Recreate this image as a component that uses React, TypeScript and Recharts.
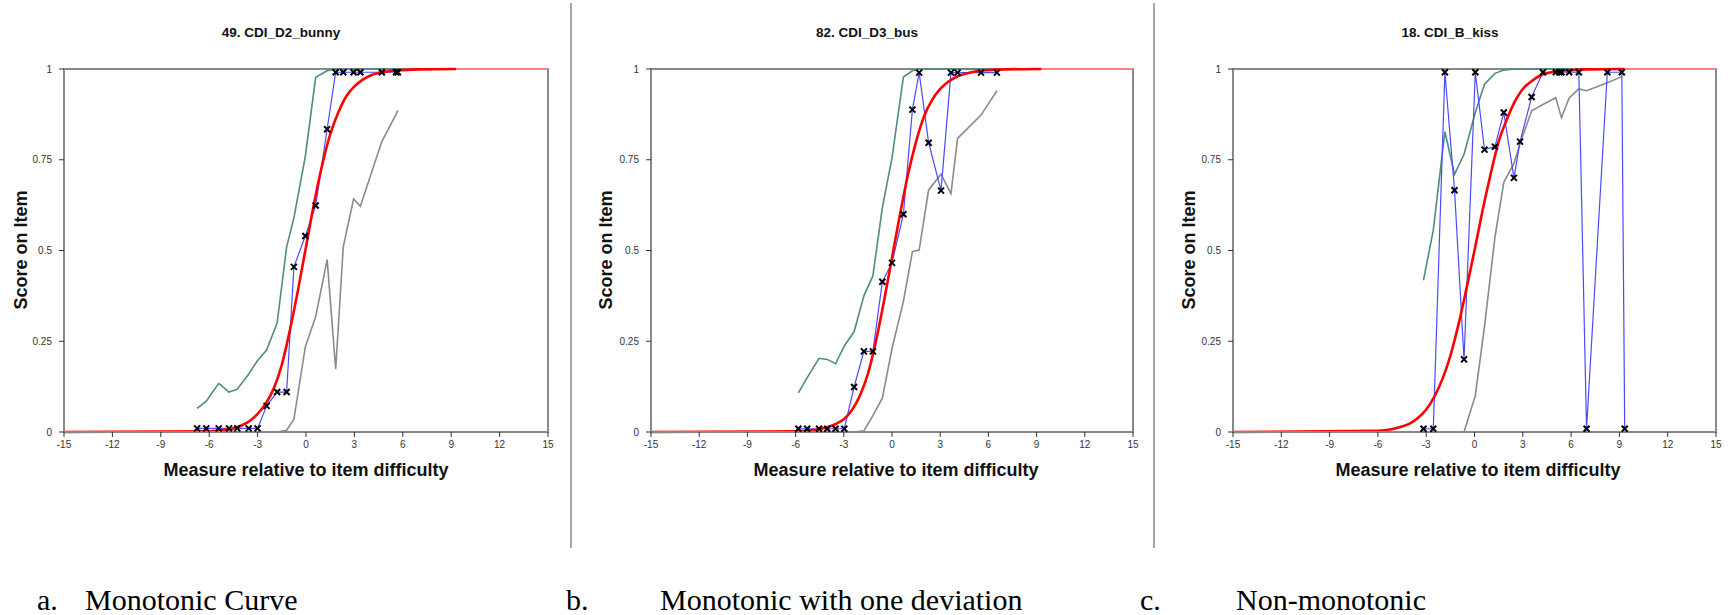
import React from 'react'
import { LineChart, Line, XAxis, YAxis, ReferenceArea } from 'recharts'

// x ticks / y ticks shared by all three item plots
const xTicks = [-15, -12, -9, -6, -3, 0, 3, 6, 9, 12, 15]
const yTicks = [0, 0.25, 0.5, 0.75, 1]

// model curve (red) sample positions
const modelX = [-15, -6, -5, -4.5, -4, -3.5, -3, -2.5, -2, -1.5, -1, -0.5, 0, 0.5, 1, 1.5, 2, 2.5, 3, 3.5, 4, 5, 6, 7, 9.3]
const tailX = [9.3, 15]
const tailY = [1, 1]

// a. 49. CDI_D2_bunny
const obsX1 = [-6.75, -6.18, -5.41, -4.77, -4.26, -3.55, -3.0, -2.44, -1.79, -1.2, -0.75, -0.04, 0.6, 1.31, 1.84, 2.31, 2.95, 3.37, 4.7, 5.58, 5.69]
const obsY1 = [0.01, 0.01, 0.01, 0.01, 0.01, 0.01, 0.01, 0.072, 0.11, 0.11, 0.455, 0.54, 0.624, 0.834, 0.991, 0.991, 0.991, 0.991, 0.991, 0.991, 0.991]
const upperY1 = [0.065, 0.085, 0.134, 0.11, 0.118, 0.16, 0.197, 0.226, 0.3, 0.51, 0.59, 0.76, 0.977, 0.995, 1, 1, 1, 1, 1, 1, 1]
const lowerY1 = [0, 0, 0, 0, 0, 0, 0, 0, 0, 0.005, 0.035, 0.235, 0.318, 0.475, 0.173, 0.51, 0.642, 0.622, 0.8, 0.875, 0.886]
const modelY1 = [0, 0.002, 0.006, 0.01, 0.018, 0.03, 0.05, 0.078, 0.12, 0.185, 0.28, 0.39, 0.51, 0.63, 0.735, 0.82, 0.88, 0.925, 0.952, 0.97, 0.982, 0.993, 0.997, 0.999, 1]

// b. 82. CDI_D3_bus
const obsX2 = [-5.83, -5.28, -4.54, -4.03, -3.51, -2.97, -2.36, -1.75, -1.19, -0.6, 0.0, 0.71, 1.27, 1.69, 2.28, 3.05, 3.67, 4.08, 5.54, 6.53]
const obsY2 = [0.009, 0.009, 0.009, 0.009, 0.009, 0.009, 0.124, 0.222, 0.222, 0.414, 0.466, 0.6, 0.888, 0.99, 0.797, 0.665, 0.99, 0.99, 0.99, 0.99]
const upperY2 = [0.108, 0.15, 0.203, 0.2, 0.188, 0.237, 0.276, 0.375, 0.43, 0.618, 0.755, 0.978, 0.995, 1, 1, 1, 1, 1, 1, 1]
const lowerY2 = [0, 0, 0, 0, 0, 0, 0, 0.003, 0.045, 0.093, 0.23, 0.36, 0.497, 0.501, 0.667, 0.71, 0.657, 0.809, 0.873, 0.94]
const modelY2 = [0, 0.002, 0.005, 0.008, 0.014, 0.022, 0.035, 0.06, 0.1, 0.16, 0.25, 0.36, 0.48, 0.6, 0.71, 0.8, 0.87, 0.915, 0.945, 0.965, 0.978, 0.992, 0.997, 0.999, 1]

// c. 18. CDI_B_kiss
const obsX3 = [-3.17, -2.56, -1.84, -1.24, -0.65, 0.05, 0.62, 1.27, 1.82, 2.45, 2.83, 3.55, 4.25, 5.05, 5.27, 5.4, 5.88, 6.48, 6.96, 8.25, 9.15, 9.33]
const obsY3 = [0.009, 0.009, 0.991, 0.666, 0.2, 0.991, 0.778, 0.786, 0.88, 0.7, 0.8, 0.923, 0.991, 0.991, 0.991, 0.991, 0.991, 0.991, 0.009, 0.991, 0.991, 0.009]
const upperY3 = [0.418, 0.556, 0.827, 0.71, 0.765, 0.88, 0.958, 0.988, 0.997, 1, 1, 1, 1, 1, 1, 1, 1, 1, 1, 1, 1, 1]
const lowerY3 = [0, 0, 0, 0, 0, 0.1, 0.29, 0.537, 0.688, 0.74, 0.795, 0.885, 0.902, 0.921, 0.886, 0.866, 0.92, 0.945, 0.94, 0.962, 0.979, null]
const modelY3 = [0, 0.003, 0.009, 0.015, 0.024, 0.039, 0.062, 0.097, 0.145, 0.21, 0.295, 0.395, 0.5, 0.61, 0.71, 0.8, 0.86, 0.91, 0.945, 0.965, 0.98, 0.993, 0.997, 0.999, 1]

const titles = ['49. CDI_D2_bunny', '82. CDI_D3_bus', '18. CDI_B_kiss']
const captions = [
  ['a.', 'Monotonic Curve'],
  ['b.', 'Monotonic with one deviation'],
  ['c.', 'Non-monotonic'],
]

const SANS = '"Liberation Sans", Arial, sans-serif'
const SERIF = '"Liberation Serif", "Times New Roman", serif'

const zip = (xs: number[], ys: (number | null)[]) => xs.map((x, i) => ({ x, y: ys[i] }))

function Cross(props: any) {
  const { cx, cy } = props
  if (cx == null || cy == null) return <g />
  const s = 3
  return (
    <path
      d={`M${cx - s},${cy - s}L${cx + s},${cy + s}M${cx - s},${cy + s}L${cx + s},${cy - s}`}
      stroke="#000"
      strokeWidth={2}
      fill="none"
    />
  )
}

type PanelProps = {
  left: number
  width: number
  yAxisWidth: number
  marginRight: number
  obsX: number[]
  obsY: number[]
  upperY: number[]
  lowerY: (number | null)[]
  modelY: number[]
}

function ItemPlot(p: PanelProps) {
  const obs = zip(p.obsX, p.obsY)
  return (
    <div style={{ position: 'absolute', left: p.left, top: 0 }}>
      <LineChart width={p.width} height={500} margin={{ top: 69, right: p.marginRight, bottom: 20, left: 0 }}>
        <XAxis
          dataKey="x"
          type="number"
          domain={[-15, 15]}
          ticks={xTicks}
          allowDataOverflow
          height={48}
          axisLine={{ stroke: '#888', strokeWidth: 2 }}
          tickLine={{ stroke: '#333' }}
          tickSize={5}
          tickMargin={4}
          tick={{ fontSize: 10, fill: '#333', fontFamily: SANS }}
        />
        <YAxis
          type="number"
          domain={[0, 1]}
          ticks={yTicks}
          width={p.yAxisWidth}
          axisLine={{ stroke: '#888', strokeWidth: 2 }}
          tickLine={{ stroke: '#333' }}
          tickSize={5}
          tickMargin={7}
          tick={{ fontSize: 10, fill: '#333', fontFamily: SANS }}
        />
        <ReferenceArea x1={-15} x2={15} y1={0} y2={1} fill="none" stroke="#888" strokeWidth={2} />
        <Line data={zip(p.obsX, p.upperY)} dataKey="y" stroke="#4f8c82" strokeWidth={1.6} dot={false} type="linear" isAnimationActive={false} />
        <Line data={zip(p.obsX, p.lowerY)} dataKey="y" stroke="#8a8a8a" strokeWidth={1.6} dot={false} type="linear" isAnimationActive={false} />
        <Line data={obs} dataKey="y" stroke="#4a4aff" strokeWidth={1.2} dot={false} type="linear" isAnimationActive={false} />
        <Line data={zip(modelX, p.modelY)} dataKey="y" stroke="#ff0000" strokeWidth={2.6} dot={false} type="monotone" isAnimationActive={false} />
        <Line data={zip(tailX, tailY)} dataKey="y" stroke="#ff8080" strokeWidth={2} dot={false} type="linear" isAnimationActive={false} />
        <Line
          data={obs}
          dataKey="y"
          stroke="none"
          dot={(d: any) => <Cross key={`c${d.index}`} cx={d.cx} cy={d.cy} />}
          activeDot={false}
          isAnimationActive={false}
        />
      </LineChart>
    </div>
  )
}

function Text({ x, y, children, size, bold, rotate, font }: any) {
  return (
    <div
      style={{
        position: 'absolute',
        left: x,
        top: y,
        transform: `translate(-50%, -50%)${rotate ? ' rotate(-90deg)' : ''}`,
        whiteSpace: 'nowrap',
        fontFamily: font || SANS,
        fontSize: size,
        fontWeight: bold ? 'bold' : 'normal',
        color: '#111',
        lineHeight: 1,
      }}
    >
      {children}
    </div>
  )
}

export default function App() {
  const titleX = [281, 867, 1450]
  const xTitleX = [306, 896, 1478]
  const yTitleX = [21, 606, 1189]
  const capLeft = [
    [37, 85],
    [566, 660],
    [1140, 1236],
  ]
  return (
    <div style={{ position: 'absolute', left: 0, top: 0, width: 1730, height: 615, overflow: 'hidden', background: '#fff' }}>
      <ItemPlot left={0} width={570} yAxisWidth={64} marginRight={22} obsX={obsX1} obsY={obsY1} upperY={upperY1} lowerY={lowerY1} modelY={modelY1} />
      <ItemPlot left={580} width={573} yAxisWidth={71} marginRight={20} obsX={obsX2} obsY={obsY2} upperY={upperY2} lowerY={lowerY2} modelY={modelY2} />
      <ItemPlot left={1160} width={566} yAxisWidth={73} marginRight={10} obsX={obsX3} obsY={obsY3} upperY={upperY3} lowerY={lowerY3} modelY={modelY3} />

      {titles.map((t, i) => (
        <Text key={t} x={titleX[i]} y={33} size={13.5} bold>
          {t}
        </Text>
      ))}
      {xTitleX.map((x) => (
        <Text key={'x' + x} x={x} y={470} size={18} bold>
          Measure relative to item difficulty
        </Text>
      ))}
      {yTitleX.map((x) => (
        <Text key={'y' + x} x={x} y={250} size={18} bold rotate>
          Score on Item
        </Text>
      ))}

      <div style={{ position: 'absolute', left: 570, top: 3, width: 2, height: 545, background: '#a6a6a6' }} />
      <div style={{ position: 'absolute', left: 1153, top: 3, width: 2, height: 545, background: '#a6a6a6' }} />

      {captions.map(([lbl, txt], i) => (
        <React.Fragment key={lbl}>
          <div style={{ position: 'absolute', left: capLeft[i][0], top: 585, fontFamily: SERIF, fontSize: 30, lineHeight: '30px', whiteSpace: 'nowrap' }}>{lbl}</div>
          <div style={{ position: 'absolute', left: capLeft[i][1], top: 585, fontFamily: SERIF, fontSize: 30, lineHeight: '30px', whiteSpace: 'nowrap' }}>{txt}</div>
        </React.Fragment>
      ))}
    </div>
  )
}
